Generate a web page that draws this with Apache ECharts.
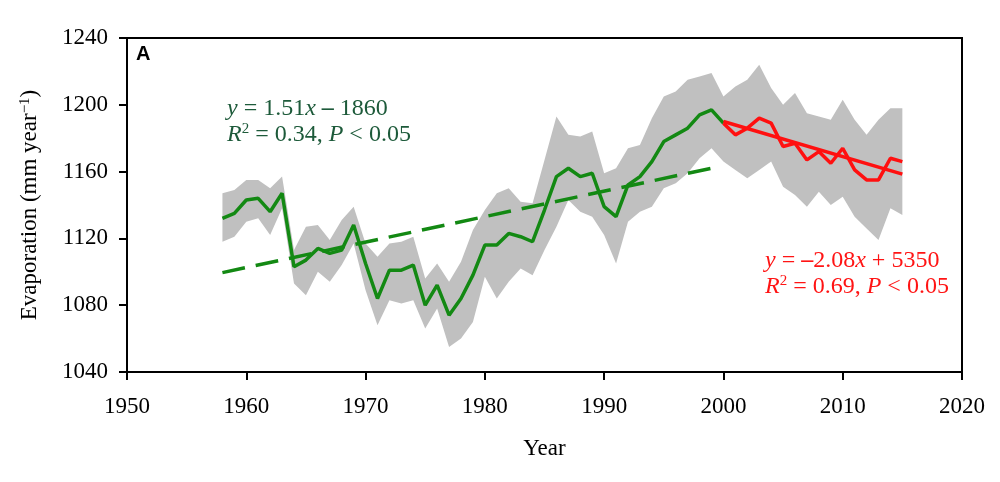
<!DOCTYPE html>
<html>
<head>
<meta charset="utf-8">
<script src="https://cdn.jsdelivr.net/npm/echarts@6/dist/echarts.min.js"></script>
<style>
html,body{margin:0;padding:0;background:#fff;}
#chart{width:1000px;height:482px;}
</style>
</head>
<body>
<div id="chart"></div>
<script>
// ---- data ----
var greenYears = [1958,1959,1960,1961,1962,1963,1964,1965,1966,1967,1968,1969,1970,1971,1972,1973,1974,1975,1976,1977,1978,1979,1980,1981,1982,1983,1984,1985,1986,1987,1988,1989,1990,1991,1992,1993,1994,1995,1996,1997,1998,1999,2000];
var greenValues = [1132,1135,1143,1144,1136,1147,1103,1107,1114,1111,1113,1128,1105,1084,1101,1101,1104,1080,1092,1074,1084,1098,1116,1116,1123,1121,1118,1137,1157,1162,1157,1159,1139,1133,1152,1157,1166,1178,1182,1186,1194,1197,1189];
var redYears = [2000,2001,2002,2003,2004,2005,2006,2007,2008,2009,2010,2011,2012,2013,2014,2015];
var redValues = [1189,1182,1186,1192,1189,1175,1177,1167,1172,1165,1174,1161,1155,1155,1168,1166];
var bandYears = [1958,1959,1960,1961,1962,1963,1964,1965,1966,1967,1968,1969,1970,1971,1972,1973,1974,1975,1976,1977,1978,1979,1980,1981,1982,1983,1984,1985,1986,1987,1988,1989,1990,1991,1992,1993,1994,1995,1996,1997,1998,1999,2000,2001,2002,2003,2004,2005,2006,2007,2008,2009,2010,2011,2012,2013,2014,2015];
var bandUpper = [1147,1149,1155,1155,1150,1157,1113,1127,1128,1119,1131,1139,1117,1109,1117,1118,1121,1096,1105,1094,1106,1125,1137,1147,1150,1142,1141,1167,1193,1182,1181,1184,1159,1162,1174,1176,1192,1205,1208,1215,1217,1219,1205,1211,1215,1224,1210,1200,1207,1195,1193,1191,1203,1191,1182,1191,1198,1198];
var bandLower = [1118,1121,1130,1132,1122,1138,1093,1086,1100,1094,1104,1117,1089,1068,1083,1081,1083,1066,1078,1055,1060,1070,1097,1084,1094,1102,1098,1113,1127,1143,1136,1133,1122,1105,1130,1136,1139,1150,1153,1159,1168,1174,1166,1161,1156,1161,1166,1151,1146,1139,1148,1140,1145,1133,1126,1119,1138,1134];
var greenTrendYears = [1958, 1999];
var greenTrendValues = [1099.5, 1162];
var redTrendYears = [2000, 2015];
var redTrendValues = [1190, 1158.5];
var xTicks = [1950,1960,1970,1980,1990,2000,2010,2020];
var yTicks = [1040,1080,1120,1160,1200,1240];

function pairs(xs, ys){ return xs.map(function(x,i){ return [x, ys[i]]; }); }

var FONT = 'Liberation Serif';
var chart = echarts.init(document.getElementById('chart'), null, {renderer:'canvas'});

var GREEN = '#138913';
var RED = '#ff1010';
var GTEXT = '#1d5a3a';
var RTEXT = '#ff1414';

function eqRich(color){
  return {
    i: { fontFamily: FONT, fontStyle: 'italic', fontSize: 24, fill: color, lineHeight: 26 },
    b: { fontFamily: FONT, fontWeight: 'bold', fontSize: 24, fill: color, lineHeight: 26 },
    s: { fontFamily: FONT, fontSize: 15, fill: color, verticalAlign: 'top', lineHeight: 26 }
  };
}

var option = {
  animation: false,
  backgroundColor: '#ffffff',
  grid: { left: 127, right: 38, top: 38, bottom: 110, show: true, borderColor: '#000', borderWidth: 2, backgroundColor: 'transparent' },
  xAxis: {
    type: 'value', min: xTicks[0], max: xTicks[xTicks.length-1], interval: 10,
    name: 'Year', nameLocation: 'middle', nameGap: 65,
    nameTextStyle: { fontFamily: FONT, fontSize: 23, color: '#000' },
    axisLine: { show: true, lineStyle: { color: '#000', width: 2 } },
    axisTick: { show: true, inside: false, length: 8, lineStyle: { color: '#000', width: 2 } },
    axisLabel: { fontFamily: FONT, fontSize: 23, color: '#000', margin: 23, formatter: function(v){ return String(v); } },
    splitLine: { show: false }
  },
  yAxis: {
    type: 'value', min: yTicks[0], max: yTicks[yTicks.length-1], interval: 40,
    name: '{a|Evaporation (mm year}{s|\u22121}{a|)}', nameLocation: 'middle', nameGap: 86, nameRotate: 90,
    nameTextStyle: {
      fontFamily: FONT, fontSize: 23, color: '#000',
      rich: {
        a: { fontFamily: FONT, fontSize: 23, color: '#000' },
        s: { fontFamily: FONT, fontSize: 15, color: '#000', verticalAlign: 'top', padding: [0,0,8,0] }
      }
    },
    axisLine: { show: true, lineStyle: { color: '#000', width: 2 } },
    axisTick: { show: true, inside: false, length: 8, lineStyle: { color: '#000', width: 2 } },
    axisLabel: { fontFamily: FONT, fontSize: 23, color: '#000', margin: 19, formatter: function(v){ return String(v); } },
    splitLine: { show: false }
  },
  series: [
    {
      type: 'custom',
      name: 'band',
      z: 1,
      silent: true,
      data: [[bandYears[0], bandUpper[0]]],
      renderItem: function(params, api){
        if (params.dataIndex !== 0) return;
        var pts = [];
        for (var i = 0; i < bandYears.length; i++) pts.push(api.coord([bandYears[i], bandUpper[i]]));
        for (var j = bandYears.length - 1; j >= 0; j--) pts.push(api.coord([bandYears[j], bandLower[j]]));
        return { type: 'polygon', shape: { points: pts }, style: { fill: '#c0c0c0', stroke: null } };
      }
    },
    {
      type: 'line', name: 'green trend', z: 3, symbol: 'none',
      data: pairs(greenTrendYears, greenTrendValues),
      lineStyle: { color: GREEN, width: 3.5, type: [23, 11] }
    },
    {
      type: 'line', name: 'green', z: 4, symbol: 'none',
      data: pairs(greenYears, greenValues),
      lineStyle: { color: GREEN, width: 3.5 }
    },
    {
      type: 'line', name: 'red', z: 5, symbol: 'none',
      data: pairs(redYears, redValues),
      lineStyle: { color: RED, width: 3.5 }
    },
    {
      type: 'line', name: 'red trend', z: 6, symbol: 'none',
      data: pairs(redTrendYears, redTrendValues),
      lineStyle: { color: RED, width: 3.5 }
    }
  ],
  graphic: [
    {
      type: 'text', left: 136, top: 44, z: 10,
      style: { text: 'A', font: 'bold 20px "Liberation Sans"', fill: '#000' }
    },
    {
      type: 'text', left: 227, top: 96, z: 10,
      style: {
        text: '{i|y} = 1.51{i|x} {b|\u2013} 1860\n{i|R}{s|2} = 0.34, {i|P} < 0.05',
        font: '24px "Liberation Serif"', fill: GTEXT, lineHeight: 26,
        rich: eqRich(GTEXT)
      }
    },
    {
      type: 'text', left: 765, top: 248, z: 10,
      style: {
        text: '{i|y} = {b|\u2013}2.08{i|x} + 5350\n{i|R}{s|2} = 0.69, {i|P} < 0.05',
        font: '24px "Liberation Serif"', fill: RTEXT, lineHeight: 26,
        rich: eqRich(RTEXT)
      }
    }
  ]
};
chart.setOption(option);
</script>
</body>
</html>
